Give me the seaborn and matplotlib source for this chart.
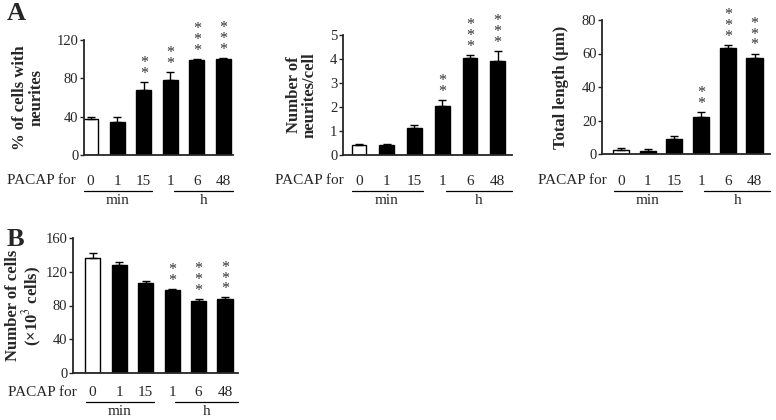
import numpy as np
import pandas as pd
import matplotlib
matplotlib.use("Agg")
import matplotlib.pyplot as plt
import seaborn as sns

# Data
times = ["0", "1", "15", "1", "6", "48"]
pct_cells = [38, 34, 68, 78, 99, 100]
pct_cells_err = [2, 6, 8, 9, 1, 1]
n_neurites = [0.43, 0.40, 1.13, 2.05, 4.05, 3.90]
n_neurites_err = [0.03, 0.05, 0.12, 0.25, 0.10, 0.45]
total_len = [2.5, 2.0, 9.0, 22.0, 63.0, 57.5]
total_len_err = [1.0, 0.8, 2.0, 3.0, 2.0, 2.5]
n_cells = [136, 128, 107, 98, 85, 88]
n_cells_err = [6, 4, 1.5, 1.5, 3, 1.5]
stars_pct = ["", "", "**", "**", "***", "***"]
stars_other = ["", "", "", "**", "***", "***"]

sns.set_style("ticks")
plt.rcParams['font.family'] = ['Liberation Serif', 'DejaVu Serif']
plt.rcParams['mathtext.fontset'] = 'stix'

W, H = 776, 420
fig = plt.figure(figsize=(W / 100, H / 100), dpi=100)


def px_axes(left, right, bottom, top):
    return fig.add_axes([left / W, 1 - bottom / H, (right - left) / W, (bottom - top) / H])


def panel(ax, vals, errs, stars, ylim, yticks, ylabel, xlim, width, lab_pad, line_px, ylpad):
    df = pd.DataFrame({"pos": range(6), "val": vals})
    colors = ["white"] + ["black"] * 5
    sns.barplot(data=df, x="pos", y="val", hue="pos", palette=colors, legend=False,
                errorbar=None, width=width, edgecolor="black", linewidth=1, ax=ax,
                native_scale=True)
    ax.errorbar(range(6), vals, yerr=[np.zeros(6), errs], fmt="none",
                ecolor="black", elinewidth=1, capsize=3, capthick=1)
    # significance stars, stacked vertically
    for i, s in enumerate(stars):
        if s:
            ax.annotate("\n".join(s), xy=(i, vals[i] + errs[i]), xytext=(0, 0),
                        textcoords="offset points", ha="center", va="bottom",
                        fontsize=11.5, color="#333333", linespacing=0.58,
                        multialignment="center", clip_on=False)
    ax.set_xlim(*xlim)
    ax.set_ylim(*ylim)
    ax.set_yticks(yticks)
    ax.set_xticks(range(6))
    ax.set_xticklabels(times, fontsize=11)
    ax.tick_params(axis="x", length=0, pad=lab_pad)
    ax.tick_params(axis="y", labelsize=10.5, length=3, width=1, pad=1)
    ax.set_xlabel("")
    ax.set_ylabel(ylabel, fontsize=12, fontweight="bold", linespacing=1.0, labelpad=ylpad)
    for sp in ["left", "bottom"]:
        ax.spines[sp].set_linewidth(1.3)
    sns.despine(ax=ax)
    # min / h underlines
    hpx = ax.get_position().height * H
    yl = -line_px / hpx
    yt = -(line_px + 3) / hpx
    tr = ax.get_xaxis_transform()
    ax.plot([-0.25, 2.3], [yl, yl], color="black", lw=0.9, transform=tr, clip_on=False)
    ax.plot([3.12, xlim[1]], [yl, yl], color="black", lw=0.9, transform=tr, clip_on=False)
    ax.text(1.0, yt, "min", transform=tr, ha="center", va="top", fontsize=11)
    ax.text((3.12 + xlim[1]) / 2, yt, "h", transform=tr, ha="center", va="top", fontsize=11)


ax1 = px_axes(84, 233, 155, 40)
panel(ax1, pct_cells, pct_cells_err, stars_pct, (0, 120), [0, 40, 80, 120],
      "% of cells with\nneurites", (-0.25, 5.36), 0.57, 14.5, 36, 9)

ax2 = px_axes(343, 512, 155, 35)
panel(ax2, n_neurites, n_neurites_err, stars_other, (0, 5), [0, 1, 2, 3, 4, 5],
      "Number of\nneurites/cell", (-0.58, 5.52), 0.53, 14.5, 36, 9)

ax3 = px_axes(602, 770, 154, 20)
panel(ax3, total_len, total_len_err, stars_other, (0, 80), [0, 20, 40, 60, 80],
      "Total length (μm)", (-0.71, 5.58), 0.6, 15, 37, 9)

ax4 = px_axes(73, 238, 373, 238)
panel(ax4, n_cells, n_cells_err, stars_other, (0, 160), [0, 40, 80, 120, 160],
      "Number of cells\n(×10$^3$ cells)", (-0.74, 5.49), 0.57, 9, 29, 1)

for x, y in [(7, 181), (275, 181), (538, 181), (8, 392)]:
    fig.text(x / W, 1 - y / H, "PACAP for", ha="left", va="center", fontsize=11)

fig.text(7 / W, 1 - 13 / H, "A", fontsize=19, fontweight="bold", va="center", ha="left")
fig.text(7 / W, 1 - 239 / H, "B", fontsize=19, fontweight="bold", va="center", ha="left")

fig.savefig("out.png", dpi=100)
